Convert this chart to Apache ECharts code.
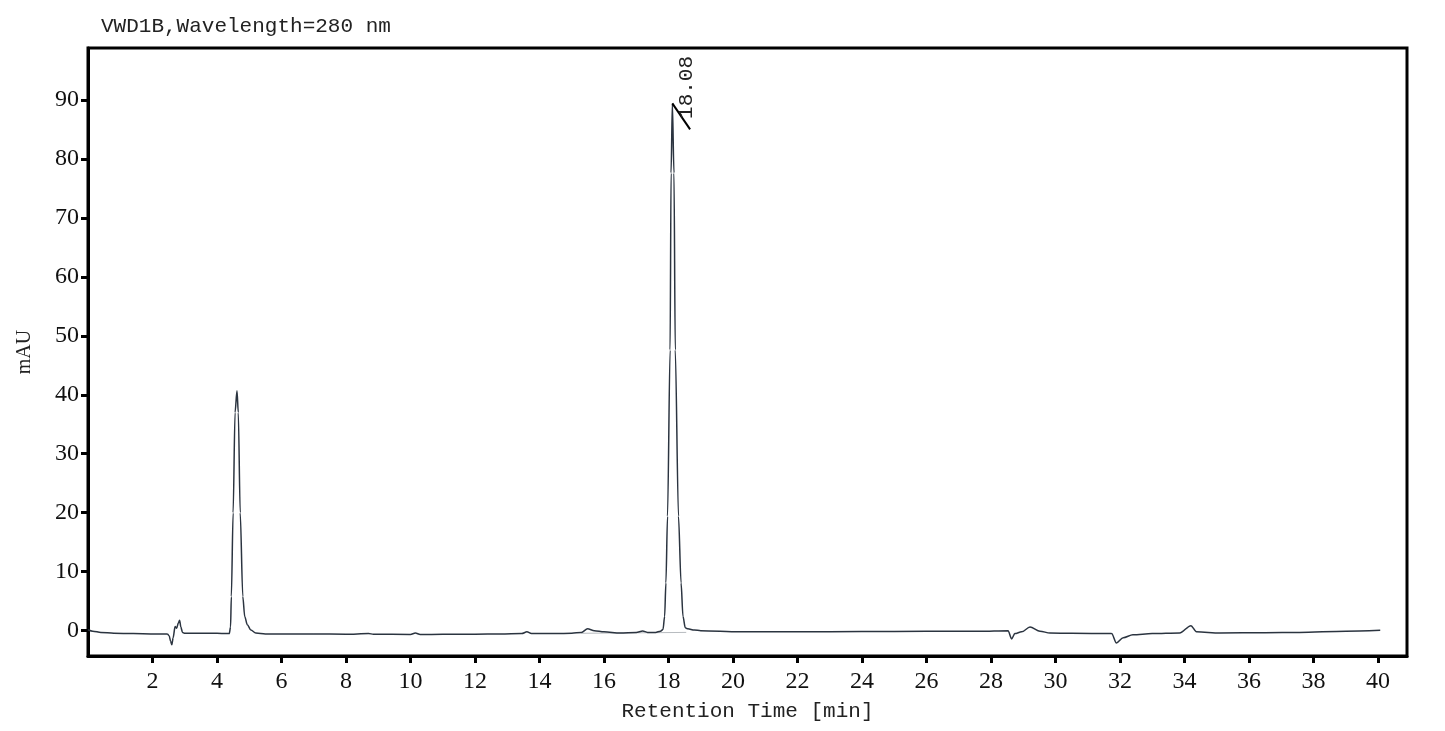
<!DOCTYPE html>
<html>
<head>
<meta charset="utf-8">
<title>VWD1B chromatogram</title>
<script src="https://cdn.jsdelivr.net/npm/echarts@6/dist/echarts.min.js"></script>
<style>
  html, body { margin: 0; padding: 0; background: #fff; }
  #chart { width: 1445px; height: 731px; }
</style>
</head>
<body>
<div id="chart"></div>
<script>
// trace points: [time (min), signal (mAU)]
const trace = [
  [0.0, 0.15], [0.15, -0.1], [0.4, -0.3], [0.8, -0.45], [1.4, -0.5], [2.0, -0.55], [2.46, -0.56],
  [2.52, -0.9], [2.56, -1.8], [2.60, -2.4], [2.64, -1.2], [2.70, 0.7], [2.75, 0.4], [2.80, 1.3],
  [2.84, 1.75], [2.88, 0.6], [2.93, -0.3], [3.0, -0.45], [3.5, -0.45], [4.0, -0.45], [4.3, -0.5],
  [4.38, -0.5], [4.42, 0.6], [4.445, 5.8], [4.50, 20.0], [4.56, 37.0], [4.62, 40.7], [4.66, 37.0],
  [4.72, 20.0], [4.80, 5.8], [4.86, 2.4], [4.94, 1.0], [5.05, 0.1], [5.2, -0.4], [5.5, -0.55],
  [6.0, -0.55], [7.0, -0.58], [8.0, -0.6], [8.7, -0.5], [8.85, -0.6], [10.0, -0.65], [10.15, -0.4],
  [10.3, -0.65], [11.0, -0.62], [12.0, -0.6], [12.8, -0.56], [13.45, -0.5], [13.61, -0.2],
  [13.75, -0.5], [14.5, -0.48], [15.0, -0.45], [15.3, -0.3], [15.49, 0.3], [15.7, 0.0], [16.0, -0.2],
  [16.5, -0.4], [17.0, -0.3], [17.2, -0.05], [17.35, -0.3], [17.6, -0.3], [17.75, -0.1], [17.83, 0.2],
  [17.88, 2.4], [17.92, 8.1], [17.97, 19.4], [18.05, 47.6], [18.08, 77.6], [18.12, 89.4], [18.17, 77.6],
  [18.21, 47.6], [18.31, 19.4], [18.39, 8.1], [18.45, 2.4], [18.52, 0.5], [18.6, 0.3], [18.8, 0.1],
  [19.0, 0.0], [20.2, -0.2], [22.0, -0.2], [24.0, -0.15], [26.0, -0.12], [27.66, -0.1], [28.53, 0.0],
  [28.64, -1.4], [28.74, -0.5], [28.95, -0.2], [29.21, 0.6], [29.52, -0.1], [29.83, -0.4], [30.5, -0.45],
  [31.74, -0.5], [31.89, -2.1], [32.1, -1.2], [32.4, -0.7], [33.0, -0.5], [33.85, -0.4], [34.2, 0.85],
  [34.37, -0.2], [35.1, -0.4], [36.5, -0.35], [37.56, -0.3], [39.0, -0.1], [40.07, 0.05]
];

// integration baseline under the 18.08 peak
const peakBaseline = [[15.3, -0.45], [18.55, -0.3]];

// peak label: retention time, apex and end of the marker stroke
const peakName = '18.08';
const peakApex = [18.12, 89.4];
const peakStrokeEnd = [18.67, 85.0];

const xTicks = [2, 4, 6, 8, 10, 12, 14, 16, 18, 20, 22, 24, 26, 28, 30, 32, 34, 36, 38, 40];
const yTicks = [0, 10, 20, 30, 40, 50, 60, 70, 80, 90];

const chart = echarts.init(document.getElementById('chart'));

const serif = '"Liberation Serif", "DejaVu Serif", serif';
const mono = '"Liberation Mono", "DejaVu Sans Mono", monospace';

chart.setOption({
  animation: false,
  backgroundColor: '#fff',
  title: {
    text: 'VWD1B,Wavelength=280 nm',
    left: 96,
    top: 11,
    textStyle: { fontFamily: mono, fontSize: 21, fontWeight: 'normal', color: '#222' }
  },
  grid: {
    left: 88, right: 38, top: 48, bottom: 75,
    show: true, borderColor: '#000', borderWidth: 3, backgroundColor: '#fff'
  },
  xAxis: {
    type: 'value',
    min: 0,
    max: 40.9,
    name: 'Retention Time [min]',
    nameLocation: 'middle',
    nameGap: 45,
    nameTextStyle: { fontFamily: mono, fontSize: 21, color: '#222' },
    axisLine: { show: true, onZero: false, lineStyle: { color: '#000', width: 3 } },
    axisTick: { show: true, customValues: xTicks, length: 7, lineStyle: { color: '#000', width: 3 } },
    axisLabel: { customValues: xTicks, margin: 14, fontFamily: serif, fontSize: 24, color: '#111' },
    splitLine: { show: false }
  },
  yAxis: {
    type: 'value',
    min: -4.3,
    max: 98.8,
    name: 'mAU',
    nameLocation: 'middle',
    nameRotate: 90,
    nameGap: 53,
    nameTextStyle: { fontFamily: serif, fontSize: 20, color: '#222' },
    axisLine: { show: true, onZero: false, lineStyle: { color: '#000', width: 3 } },
    axisTick: { show: true, customValues: yTicks, length: 7, lineStyle: { color: '#000', width: 3 } },
    axisLabel: { customValues: yTicks, margin: 9, fontFamily: serif, fontSize: 24, color: '#111' },
    splitLine: { show: false }
  },
  series: [
    {
      type: 'line',
      data: peakBaseline,
      symbol: 'none',
      lineStyle: { color: '#b8bcc0', width: 1 },
      z: 1
    },
    {
      type: 'line',
      data: trace,
      symbol: 'none',
      smooth: 0.3,
      smoothMonotone: 'x',
      lineStyle: { color: '#2b3440', width: 1.5 },
      z: 2,
      markPoint: {
        symbol: 'circle',
        symbolSize: 0,
        data: [{
          coord: peakApex,
          label: {
            show: true,
            formatter: peakName,
            rotate: 90,
            offset: [16, 14],
            fontFamily: mono,
            fontSize: 21,
            color: '#222'
          }
        }]
      },
      markLine: {
        silent: true,
        symbol: 'none',
        label: { show: false },
        lineStyle: { color: '#000', width: 2, type: 'solid' },
        data: [[{ coord: peakApex }, { coord: peakStrokeEnd }]]
      }
    }
  ]
});
</script>
</body>
</html>
